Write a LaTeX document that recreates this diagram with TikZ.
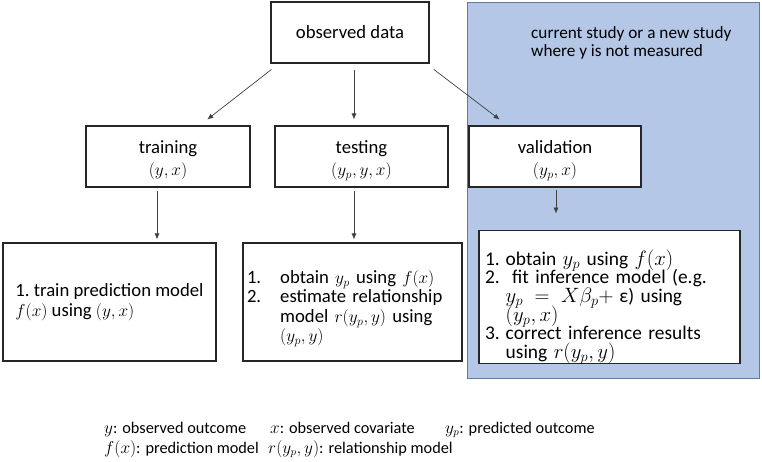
\documentclass[tikz,border=0pt]{standalone}
\usepackage{fontspec}
\setmainfont{Carlito}
\usepackage{amsmath}
\usetikzlibrary{arrows.meta}
\definecolor{studyblue}{RGB}{180,199,231}
\definecolor{studyline}{RGB}{96,122,160}
\newcommand{\rowtext}[1]{\smash{#1}}

\begin{document}
\begin{tikzpicture}[x=1pt,y=-1pt,
  every node/.style={font=\fontsize{18.7}{19.5}\selectfont},
  box/.style={draw=black!85,line width=1.1pt,fill=white,inner sep=0pt,align=center},
  arr/.style={draw=black!75,line width=0.7pt,-{Latex[length=6pt,width=5pt]}},
  note/.style={font=\fontsize{16.3}{18}\selectfont,inner sep=0pt}]

  \useasboundingbox (0,0) rectangle (762,462);
  % region of the new study
  \draw[studyline,fill=studyblue,line width=0.8pt] (467,2) rectangle (759,378);
  \node[note,anchor=north west,align=left,font=\fontsize{17.2}{18.5}\selectfont] (s1) at (531,26)
    {current study or a new study\\where y is not measured};

  \node[box,minimum width=158,minimum height=61] (n1) at (350,32.5) {observed data};
  \node[box,minimum width=164,minimum height=61,text height=43pt] (n2) at (168,156.5) {training\\[3pt]$(y,x)$};
  \node[box,minimum width=173,minimum height=61,text height=43pt] (n3) at (361.5,156.5) {testing\\[3pt]$(y_p,y,x)$};
  \node[box,minimum width=172,minimum height=61,text height=43pt] (n4) at (555,156.5) {validation\\[3pt]$(y_p,x)$};

  \node[box,minimum width=213,minimum height=118,align=left] (n5) at (109.5,302)
    {1.\ train prediction model\\$f(x)$ using $(y,x)$};
  \node[box,minimum width=219,minimum height=118,text width=211,align=left,text height=57pt] (n6) at (352.5,302)
    {\begin{tabular}{@{}l@{\hspace{19pt}}l@{}}
      1. & obtain $y_p$ using $f(x)$\\
      2. & estimate relationship\\
         & model $r(y_p,y)$ using\\
         & $(y_p,y)$
    \end{tabular}};
  \node[box,minimum width=261,minimum height=130,text width=249,align=left,text height=83pt,
        font=\fontsize{19.4}{18.6}\selectfont] (n7) at (609.5,297)
    {\begin{tabular}{@{}l@{\hspace{6pt}}l@{}}
      1. & \rowtext{obtain $y_p$ using $f(x)$}\\
      2. & \rowtext{\ fit inference model (e.g.}\\
         & \rowtext{$y_p\;=\;X\beta_p+\;$ε) using}\\
         & \rowtext{$(y_p,x)$}\\
      3. & \rowtext{correct inference results}\\
         & \rowtext{using $r(y_p,y)$}
    \end{tabular}};

  \draw[arr,shorten <=9.7pt,shorten >=9.7pt] ([xshift=8.6]n1.south west) -- ([xshift=31.6]n2.north);
  \draw[arr,shorten <=6pt,shorten >=6pt] ([xshift=4]n1.south) -- ([xshift=-7.5]n3.north);
  \draw[arr,shorten <=9.7pt,shorten >=9.7pt] ([xshift=-3.5]n1.south east) -- ([xshift=-47.6]n4.north);
  \draw[arr,shorten <=3pt,shorten >=3pt] ([xshift=-11]n2.south) -- ([xshift=47.5]n5.north);
  \draw[arr,shorten <=3pt,shorten >=3pt] ([xshift=-7.5]n3.south) -- ([xshift=1.5]n6.north);
  \draw[arr,shorten <=2pt,shorten >=16pt] ([xshift=1]n4.south) -- ([xshift=-53.5]n7.north);

  % legend
  \node[note,anchor=base west] (k1) at (104,433) {$y$: observed outcome};
  \node[note,anchor=base west] (k2) at (270,433) {$x$: observed covariate};
  \node[note,anchor=base west] (k3) at (445,433) {$y_p$: predicted outcome};
  \node[note,anchor=base west] (k4) at (104,453) {$f(x)$: prediction model};
  \node[note,anchor=base west] (k5) at (268,453) {$r(y_p,y)$: relationship model};
\end{tikzpicture}
\end{document}
